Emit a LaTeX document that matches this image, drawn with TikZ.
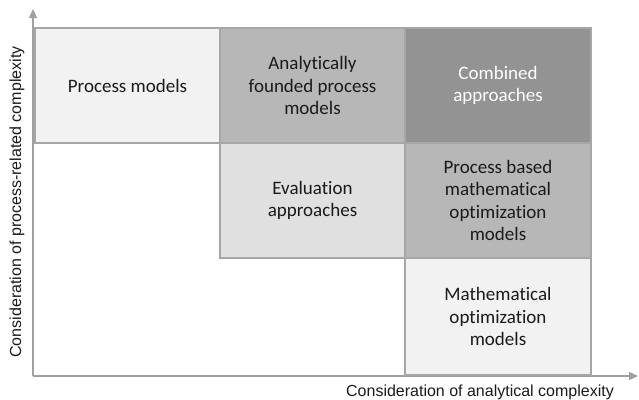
\documentclass[tikz,border=0pt]{standalone}
\usepackage{fontspec}
\setmainfont{Carlito}[Ligatures=NoCommon]
\newfontfamily\axisfont{Liberation Sans}
\usetikzlibrary{arrows.meta}
\definecolor{boxline}{HTML}{A6A6A6}
\definecolor{axisgray}{HTML}{A0A0A0}
\definecolor{fillA}{HTML}{F2F2F2}
\definecolor{fillB}{HTML}{B7B7B7}
\definecolor{fillC}{HTML}{939393}
\definecolor{fillD}{HTML}{E0E0E0}
\definecolor{txt}{HTML}{1A1A1A}
\begin{document}
\begin{tikzpicture}[x=1pt,y=-1pt,
  cell/.style={draw=boxline, line width=1.2pt, rectangle, inner sep=0pt, outer sep=0pt,
    align=center, text=txt, font=\fontsize{19}{22.5}\selectfont},
  axisline/.style={draw=axisgray, line width=1.2pt, -{Triangle[length=9pt,width=8pt]}},
  axislabel/.style={font=\axisfont\fontsize{16}{19}\selectfont, text=txt, inner sep=0pt}]
\useasboundingbox (0,0) rectangle (639,399);
\coordinate (o) at (33,376);
\coordinate (ytip) at (33,9);
\coordinate (xtip) at (638,376);
\draw[axisline] (o) -- (ytip);
\draw[axisline] (o) -- (xtip);
\node[cell, fill=fillA, minimum width=185pt, minimum height=115pt] (pm) at (127.5,85.5) {Process models};
\node[cell, fill=fillB, minimum width=185pt, minimum height=115pt] (afpm) at (312.5,85.5) {Analytically\\founded process\\models};
\node[cell, fill=fillC, minimum width=186pt, minimum height=115pt, text=white] (ca) at (498,85.5) {Combined\\approaches};
\node[cell, fill=fillD, minimum width=185pt, minimum height=115pt] (ea) at (312.5,200.5) {Evaluation\\approaches};
\node[cell, fill=fillB, minimum width=186pt, minimum height=115pt] (pbmom) at (498,200.5) {Process based\\mathematical\\optimization\\models};
\node[cell, fill=fillA, minimum width=186pt, minimum height=117pt] (mom) at (498,316.5) {Mathematical\\optimization\\models};
\node[axislabel] (xl) at (480,392) {Consideration of analytical complexity};
\node[axislabel, rotate=90] (yl) at (17,202) {Consideration of process-related complexity};
\end{tikzpicture}
\end{document}
